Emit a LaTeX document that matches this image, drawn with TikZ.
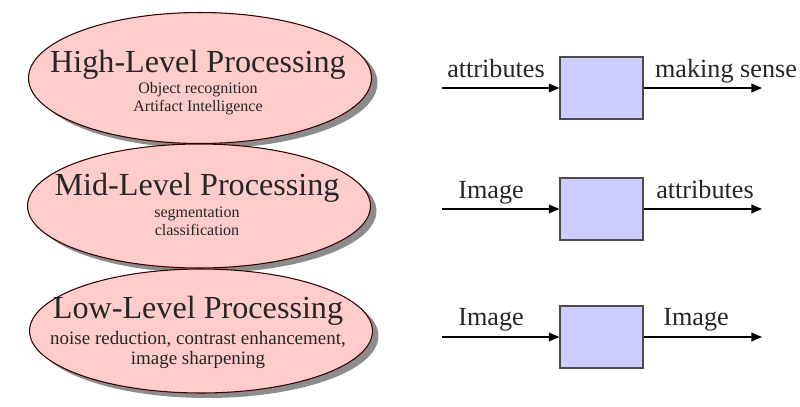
\documentclass[tikz,border=0pt]{standalone}
\usepackage{fontspec}
\setmainfont{Liberation Serif}
\usetikzlibrary{arrows.meta, positioning, shapes.geometric, shadows}
\definecolor{levelpink}{RGB}{255,204,204}
\definecolor{blockblue}{RGB}{204,204,255}
\tikzset{
  level/.style={ellipse,draw=black!80!red,fill=levelpink,line width=0.6pt,minimum width=6.86cm,minimum height=2.48cm,inner sep=0pt,
    drop shadow={shadow xshift=0.12cm,shadow yshift=-0.1cm,fill=black!45,opacity=1}},
  title/.style={font=\fontsize{18.3}{21}\selectfont,text=black!85,anchor=base,inner sep=0pt},
  detail/.style={font=\fontsize{9.1}{10}\selectfont,text=black!85,align=center,anchor=base,inner sep=0pt},
  block/.style={rectangle,draw=black!70,fill=blockblue,line width=0.8pt,minimum width=1.66cm,minimum height=1.24cm,inner sep=0pt},
  tag/.style={font=\fontsize{14.9}{17}\selectfont,text=black!85,anchor=base,inner sep=0pt},
  line/.style={-{Triangle[length=6pt,width=5pt]},line width=0.7pt}
}

\begin{document}
\begin{tikzpicture}[x=0.02cm,y=-0.02cm]
\useasboundingbox (0,0) rectangle (800,406);
% processing levels
\node[level, minimum height=2.62cm] (high) at (200,78) {};
\node[level] (mid) at (199,206) {};
\node[level] (low) at (201,331) {};
\node[title] (hight) at (198,72) {High-Level Processing};
\node[detail] (highd) at (198,111) {Object recognition\\Artifact Intelligence};
\node[title] (midt) at (197,195) {Mid-Level Processing};
\node[detail] (midd) at (197,235) {segmentation\\classification};
\node[title] (lowt) at (198,318) {Low-Level Processing};
\node[detail, font=\fontsize{10.8}{11}\selectfont] (lowd) at (198,364) {noise reduction, contrast enhancement,\\image sharpening};
% blocks
\node[block] (b1) at (601.5,88) {};
\node[block] (b2) at (601.5,209) {};
\node[block] (b3) at (601.5,337) {};
\coordinate (in1) at (442,88);
\coordinate (out1) at (762,88);
\coordinate (in2) at (442,209);
\coordinate (out2) at (762,209);
\coordinate (in3) at (442,337);
\coordinate (out3) at (762,337);
\draw[line] (in1) -- (b1);
\draw[line] (b1) -- (out1);
\draw[line] (in2) -- (b2);
\draw[line] (b2) -- (out2);
\draw[line] (in3) -- (b3);
\draw[line] (b3) -- (out3);
\node[tag] (i1) at (496,77) {attributes};
\node[tag] (o1) at (726,77) {making sense};
\node[tag] (i2) at (491,198) {Image};
\node[tag] (o2) at (705,198) {attributes};
\node[tag] (i3) at (491,325) {Image};
\node[tag] (o3) at (696,325) {Image};
\end{tikzpicture}
\end{document}
